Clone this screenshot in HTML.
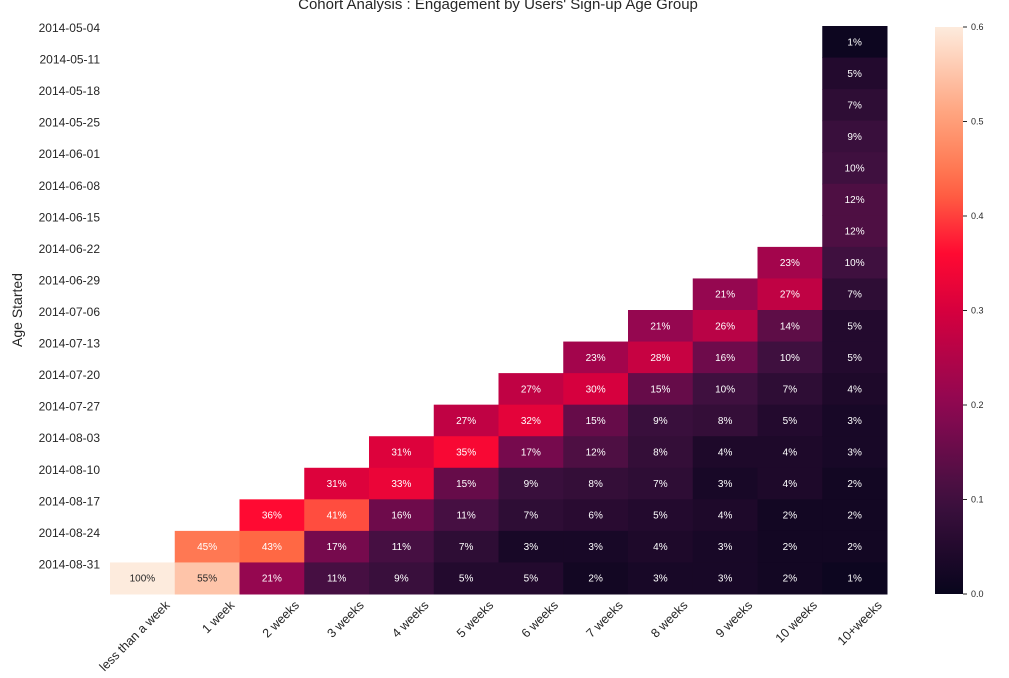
<!DOCTYPE html>
<html><head><meta charset="utf-8"><style>
body{margin:0;background:#fff;font-family:"Liberation Sans",sans-serif}
</style></head><body>
<svg id="chart" width="1009" height="673" xmlns="http://www.w3.org/2000/svg" font-family="Liberation Sans, sans-serif">
<text x="498" y="9" text-anchor="middle" font-size="15" fill="#262626">Cohort Analysis : Engagement by Users' Sign-up Age Group</text>
<text transform="translate(22,310) rotate(-90)" text-anchor="middle" font-size="14" fill="#262626">Age Started</text>
<defs><linearGradient id="cg" x1="0" y1="1" x2="0" y2="0"></linearGradient></defs>
<g id="cells"></g><g id="xt"></g><g id="yt"></g>
<rect x="935" y="27" width="28" height="567" fill="url(#cg)"/>
<g id="cb"></g>
</svg>
<script>
const rows=["2014-05-04","2014-05-11","2014-05-18","2014-05-25","2014-06-01","2014-06-08","2014-06-15","2014-06-22","2014-06-29","2014-07-06","2014-07-13","2014-07-20","2014-07-27","2014-08-03","2014-08-10","2014-08-17","2014-08-24","2014-08-31"];
const cols=["less than a week","1 week","2 weeks","3 weeks","4 weeks","5 weeks","6 weeks","7 weeks","8 weeks","9 weeks","10 weeks","10+weeks"];
// column values (percent), listed from the first non-empty row downward
const col0=[100];
const col1=[45,55];
const col2=[36,43,21];
const col3=[31,41,17,11];
const col4=[31,33,16,11,9];
const col5=[27,35,15,11,7,5];
const col6=[27,32,17,9,7,3,5];
const col7=[23,30,15,12,8,6,3,2];
const col8=[21,28,15,9,8,7,5,4,3];
const col9=[21,26,16,10,8,4,3,4,3,3];
const col10=[23,27,14,10,7,5,4,4,2,2,2];
const col11=[1,5,7,9,10,12,12,10,7,5,5,4,3,3,2,2,2,1];
const cbTicks=[0,0.1,0.2,0.3,0.4,0.5,0.6];
const colData=[col0,col1,col2,col3,col4,col5,col6,col7,col8,col9,col10,col11];
const vmax=0.6;
const X0=110,X1=887,Y0=26,Y1=594;
const cw=(X1-X0)/cols.length, rh=(Y1-Y0)/rows.length;
const stops=[[0,[8,5,28]],[0.17,[64,16,64]],[0.33,[140,8,82]],[0.5,[214,0,62]],[0.6,[255,10,50]],[0.72,[255,107,69]],[0.85,[255,165,128]],[1,[253,235,221]]];
function cmap(t){t=Math.max(0,Math.min(1,t));for(let i=1;i<stops.length;i++){if(t<=stops[i][0]){const a=stops[i-1],b=stops[i],f=(t-a[0])/(b[0]-a[0]);return a[1].map((v,k)=>Math.round(v+(b[1][k]-v)*f));}}return stops[stops.length-1][1];}
const ns="http://www.w3.org/2000/svg";
function mk(t,a,p){const e=document.createElementNS(ns,t);for(const k in a)e.setAttribute(k,a[k]);p.appendChild(e);return e;}
const cells=document.getElementById('cells');
colData.forEach((arr,c)=>{
  const start=rows.length-arr.length;
  arr.forEach((v,i)=>{
    const r=start+i;
    const col=cmap(v/100/vmax);
    const rc=mk('rect',{x:X0+c*cw,y:Y0+r*rh,width:cw+0.5,height:rh+0.5,fill:`rgb(${col})`},cells);
    
    
    const lum=0.299*col[0]+0.587*col[1]+0.114*col[2];
    const tx=mk('text',{x:X0+(c+0.5)*cw,y:Y0+(r+0.5)*rh+3.5,'text-anchor':'middle','font-size':10,fill:lum>180?'#262626':'#ffffff'},cells);
    
    
    tx.textContent=v+'%';
  });
});
const xt=document.getElementById('xt');
cols.forEach((n,c)=>{
  const cx=X0+(c+0.5)*cw;
  const t=mk('text',{transform:`translate(${cx+28},${Y1+12}) rotate(-45)`,'text-anchor':'end','font-size':12.5,fill:'#262626'},xt);
  
  
  t.textContent=n;
});
const yt=document.getElementById('yt');
rows.forEach((n,r)=>{
  const t=mk('text',{x:100,y:Y0+r*rh+6,'text-anchor':'end','font-size':12,fill:'#262626'},yt);
  
  
  t.textContent=n;
});
const g=document.getElementById('cg');
for(let i=0;i<=20;i++){const c=cmap(i/20);mk('stop',{offset:(i*5)+'%','stop-color':`rgb(${c})`},g);}
const cb=document.getElementById('cb');
cbTicks.forEach(v=>{
  const y=594-(v/vmax)*567;
  const l=mk('line',{x1:963,x2:967,y1:y,y2:y,stroke:'#262626','stroke-width':1},cb);
  
  
  const t=mk('text',{x:971,y:y+3,'font-size':9,fill:'#262626'},cb);
  
  
  t.textContent=v.toFixed(1);
});
</script>
</body></html>
